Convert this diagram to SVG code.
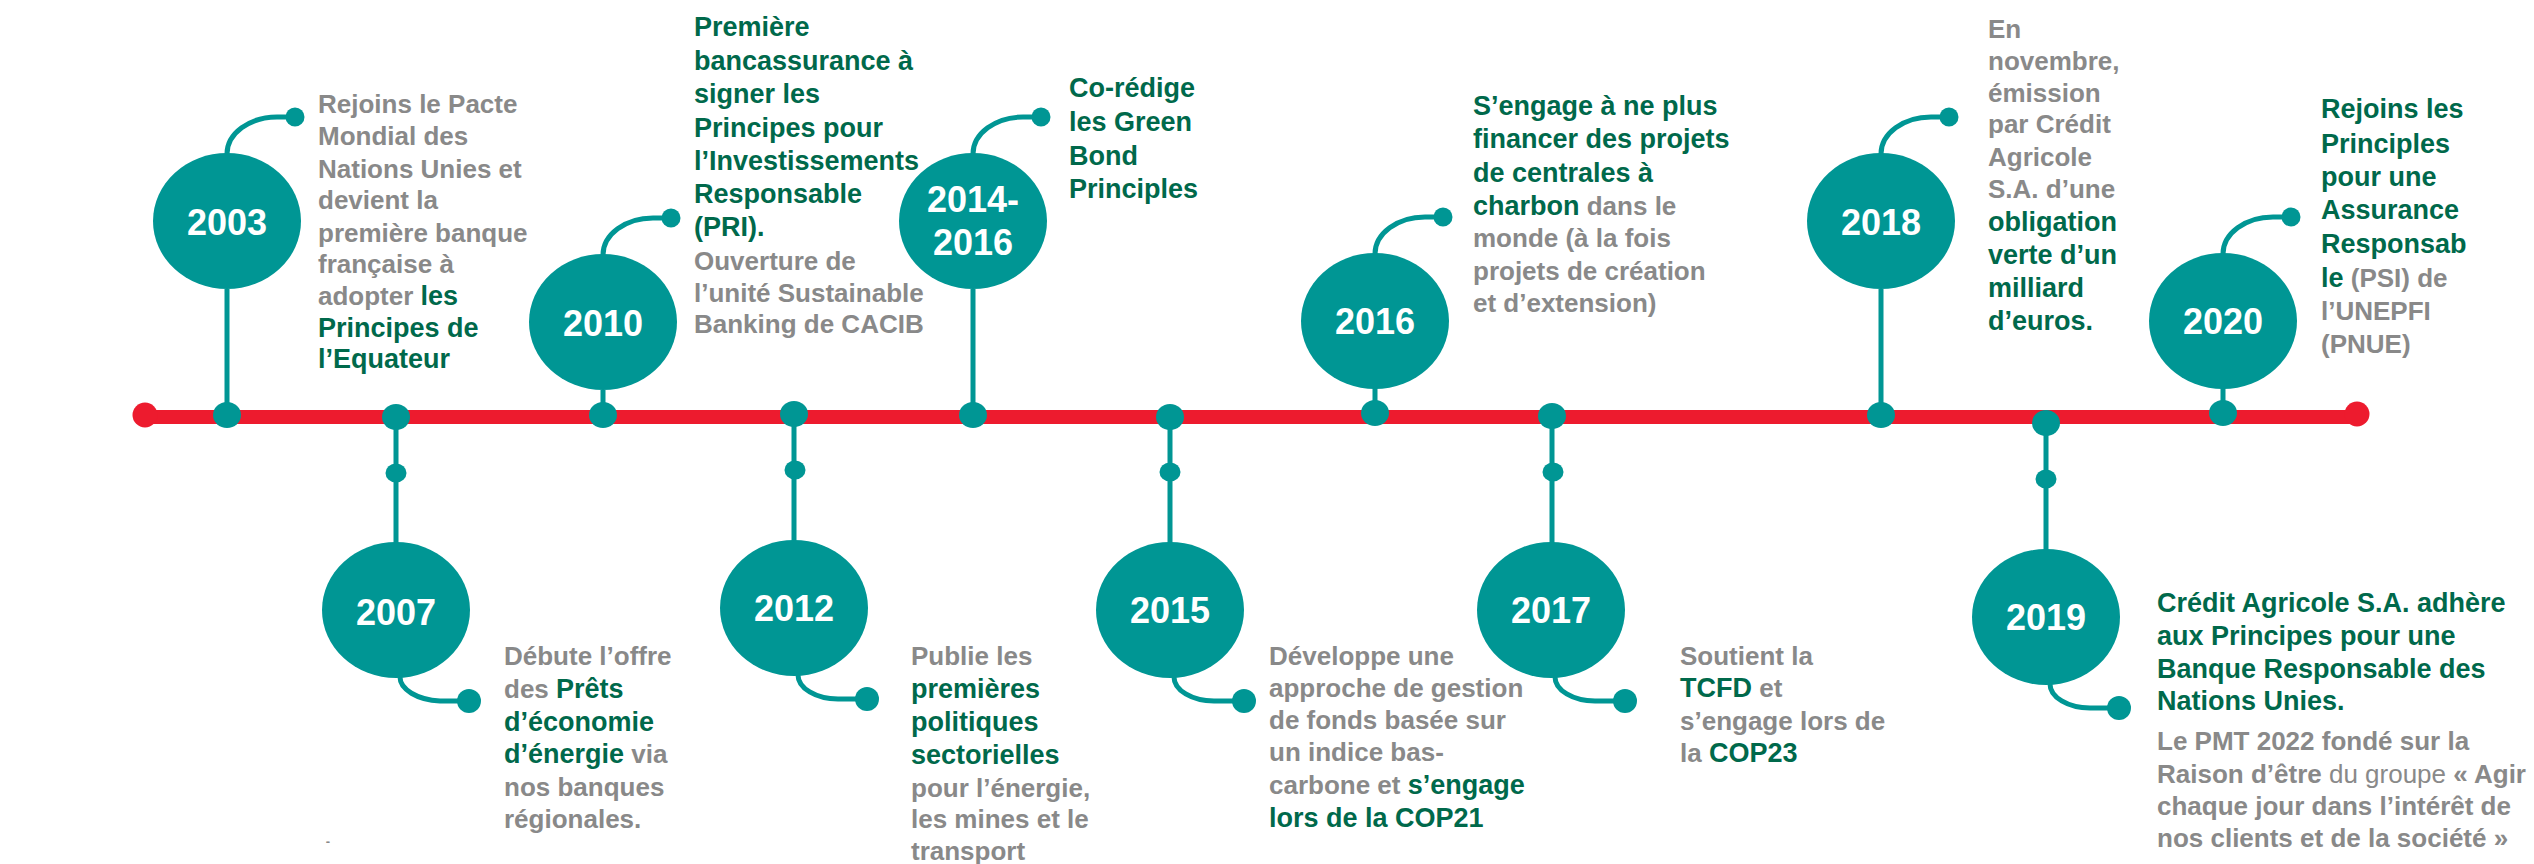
<svg xmlns="http://www.w3.org/2000/svg" width="2534" height="864" viewBox="0 0 2534 864">
<style>
text{font-family:"Liberation Sans",Arial,sans-serif;font-weight:bold}
.g{fill:#898989;font-size:26px}
.v{fill:#00694b;font-size:27px}
.r{font-weight:normal}
.yr{fill:#ffffff;font-size:36px;text-anchor:middle}
.c{fill:#009694}
.ln{stroke:#009694;stroke-width:5;fill:none}
.red{stroke:#ed1b2e;stroke-width:14}
</style>
<rect width="2534" height="864" fill="#ffffff"/>
<g id="connectors">
<line class="red" x1="145" y1="417" x2="2357" y2="417"/>
<circle cx="145" cy="415" r="12.5" fill="#ed1b2e"/>
<circle cx="2357" cy="414" r="12.5" fill="#ed1b2e"/>
</g>
<g id="e2003">
<path class="ln" d="M227,289 V415 M227,154 A50,37 0 0 1 277,117 H295"/>
<ellipse class="c" cx="227" cy="221" rx="74" ry="68"/>
<ellipse class="c" cx="227" cy="415" rx="14" ry="13"/>
<circle class="c" cx="295" cy="117" r="9.5"/>
<text class="yr" x="227" y="235">2003</text>
<text class="g" x="318" y="113">Rejoins le Pacte</text>
<text class="g" x="318" y="145">Mondial des</text>
<text class="g" x="318" y="178">Nations Unies et</text>
<text class="g" x="318" y="209">devient la</text>
<text class="g" x="318" y="242">première banque</text>
<text class="g" x="318" y="273">française à</text>
<text class="g" x="318" y="305">adopter <tspan class="v">les</tspan></text>
<text class="v" x="318" y="337">Principes de</text>
<text class="v" x="318" y="368">l’Equateur</text>
</g>
<g id="e2007">
<path class="ln" d="M396,417 V543 M400,677 A44,24 0 0 0 440,701 H469"/>
<ellipse class="c" cx="396" cy="417" rx="14" ry="13"/>
<ellipse class="c" cx="396" cy="473" rx="10.5" ry="9.5"/>
<ellipse class="c" cx="396" cy="610" rx="74" ry="68"/>
<circle class="c" cx="469" cy="701" r="12"/>
<text class="yr" x="396" y="625">2007</text>
<text class="g" x="504" y="665">Débute l’offre</text>
<text class="g" x="504" y="698">des <tspan class="v">Prêts</tspan></text>
<text class="v" x="504" y="731">d’économie</text>
<text class="g" x="504" y="763"><tspan class="v">d’énergie</tspan> via</text>
<text class="g" x="504" y="796">nos banques</text>
<text class="g" x="504" y="828">régionales.</text>
<text class="g" x="328" y="846" style="font-size:13px;text-anchor:middle">-</text>
</g>
<g id="e2010">
<path class="ln" d="M603,390 V415 M603,255 A50,37 0 0 1 653,218 H671"/>
<ellipse class="c" cx="603" cy="322" rx="74" ry="68"/>
<ellipse class="c" cx="603" cy="415" rx="14" ry="13"/>
<circle class="c" cx="671" cy="218" r="9.5"/>
<text class="yr" x="603" y="336">2010</text>
<text class="v" x="694" y="36">Première</text>
<text class="v" x="694" y="70">bancassurance à</text>
<text class="v" x="694" y="103">signer les</text>
<text class="v" x="694" y="137">Principes pour</text>
<text class="v" x="694" y="170">l’Investissements</text>
<text class="v" x="694" y="203">Responsable</text>
<text class="v" x="694" y="236">(PRI).</text>
<text class="g" x="694" y="270">Ouverture de</text>
<text class="g" x="694" y="302">l’unité Sustainable</text>
<text class="g" x="694" y="333">Banking de CACIB</text>
</g>
<g id="e2012">
<path class="ln" d="M794,414 V541 M798,675 A40,24 0 0 0 838,699 H867"/>
<ellipse class="c" cx="794" cy="414" rx="14" ry="13"/>
<ellipse class="c" cx="795" cy="470" rx="10.5" ry="9.5"/>
<ellipse class="c" cx="794" cy="608" rx="74" ry="68"/>
<circle class="c" cx="867" cy="699" r="12"/>
<text class="yr" x="794" y="621">2012</text>
<text class="g" x="911" y="665">Publie les</text>
<text class="v" x="911" y="698">premières</text>
<text class="v" x="911" y="731">politiques</text>
<text class="v" x="911" y="764">sectorielles</text>
<text class="g" x="911" y="797">pour l’énergie,</text>
<text class="g" x="911" y="828">les mines et le</text>
<text class="g" x="911" y="860">transport</text>
</g>
<g id="e2014">
<path class="ln" d="M973,289 V415 M973,154 A50,37 0 0 1 1023,117 H1041"/>
<ellipse class="c" cx="973" cy="221" rx="74" ry="68"/>
<ellipse class="c" cx="973" cy="415" rx="14" ry="13"/>
<circle class="c" cx="1041" cy="117" r="9.5"/>
<text class="yr" x="973" y="212">2014-</text>
<text class="yr" x="973" y="255">2016</text>
<text class="v" x="1069" y="97">Co-rédige</text>
<text class="v" x="1069" y="131">les Green</text>
<text class="v" x="1069" y="165">Bond</text>
<text class="v" x="1069" y="198">Principles</text>
</g>
<g id="e2015">
<path class="ln" d="M1170,417 V543 M1174,677 A40,24 0 0 0 1214,701 H1244"/>
<ellipse class="c" cx="1170" cy="417" rx="14" ry="13"/>
<ellipse class="c" cx="1170" cy="472" rx="10.5" ry="9.5"/>
<ellipse class="c" cx="1170" cy="610" rx="74" ry="68"/>
<circle class="c" cx="1244" cy="701" r="12"/>
<text class="yr" x="1170" y="623">2015</text>
<text class="g" x="1269" y="665">Développe une</text>
<text class="g" x="1269" y="697">approche de gestion</text>
<text class="g" x="1269" y="729">de fonds basée sur</text>
<text class="g" x="1269" y="761">un indice bas-</text>
<text class="g" x="1269" y="794">carbone et <tspan class="v">s’engage</tspan></text>
<text class="v" x="1269" y="827">lors de la COP21</text>
</g>
<g id="e2016">
<path class="ln" d="M1375,388 V413 M1375,254 A50,37 0 0 1 1425,217 H1443"/>
<ellipse class="c" cx="1375" cy="321" rx="74" ry="68"/>
<ellipse class="c" cx="1375" cy="413" rx="14" ry="13"/>
<circle class="c" cx="1443" cy="217" r="9.5"/>
<text class="yr" x="1375" y="334">2016</text>
<text class="v" x="1473" y="115">S’engage à ne plus</text>
<text class="v" x="1473" y="148">financer des projets</text>
<text class="v" x="1473" y="182">de centrales à</text>
<text class="g" x="1473" y="215"><tspan class="v">charbon</tspan> dans le</text>
<text class="g" x="1473" y="247">monde (à la fois</text>
<text class="g" x="1473" y="280">projets de création</text>
<text class="g" x="1473" y="312">et d’extension)</text>
</g>
<g id="e2017">
<path class="ln" d="M1552,416 V543 M1555,677 A40,24 0 0 0 1595,701 H1625"/>
<ellipse class="c" cx="1552" cy="416" rx="14" ry="13"/>
<ellipse class="c" cx="1553" cy="472" rx="10.5" ry="9.5"/>
<ellipse class="c" cx="1551" cy="610" rx="74" ry="68"/>
<circle class="c" cx="1625" cy="701" r="12"/>
<text class="yr" x="1551" y="623">2017</text>
<text class="g" x="1680" y="665">Soutient la</text>
<text class="g" x="1680" y="697"><tspan class="v">TCFD</tspan> et</text>
<text class="g" x="1680" y="730">s’engage lors de</text>
<text class="g" x="1680" y="762">la <tspan class="v">COP23</tspan></text>
</g>
<g id="e2018">
<path class="ln" d="M1881,289 V415 M1881,154 A50,37 0 0 1 1931,117 H1949"/>
<ellipse class="c" cx="1881" cy="221" rx="74" ry="68"/>
<ellipse class="c" cx="1881" cy="415" rx="14" ry="13"/>
<circle class="c" cx="1949" cy="117" r="9.5"/>
<text class="yr" x="1881" y="235">2018</text>
<text class="g" x="1988" y="38">En</text>
<text class="g" x="1988" y="70">novembre,</text>
<text class="g" x="1988" y="102">émission</text>
<text class="g" x="1988" y="133">par Crédit</text>
<text class="g" x="1988" y="166">Agricole</text>
<text class="g" x="1988" y="198">S.A. d’une</text>
<text class="v" x="1988" y="231">obligation</text>
<text class="v" x="1988" y="264">verte d’un</text>
<text class="v" x="1988" y="297">milliard</text>
<text class="v" x="1988" y="330">d’euros.</text>
</g>
<g id="e2019">
<path class="ln" d="M2046,423 V550 M2050,684 A40,24 0 0 0 2090,708 H2119"/>
<ellipse class="c" cx="2046" cy="423" rx="14" ry="13"/>
<ellipse class="c" cx="2046" cy="479" rx="10.5" ry="9.5"/>
<ellipse class="c" cx="2046" cy="617" rx="74" ry="68"/>
<circle class="c" cx="2119" cy="708" r="12"/>
<text class="yr" x="2046" y="630">2019</text>
<text class="v" x="2157" y="612">Crédit Agricole S.A. adhère</text>
<text class="v" x="2157" y="645">aux Principes pour une</text>
<text class="v" x="2157" y="678">Banque Responsable des</text>
<text class="v" x="2157" y="710">Nations Unies.</text>
<text class="g" x="2157" y="750">Le PMT 2022 fondé sur la</text>
<text class="g" x="2157" y="783">Raison d’être <tspan class="r">du groupe</tspan> « Agir</text>
<text class="g" x="2157" y="815">chaque jour dans l’intérêt de</text>
<text class="g" x="2157" y="847">nos clients et de la société »</text>
</g>
<g id="e2020">
<path class="ln" d="M2223,388 V413 M2223,254 A50,37 0 0 1 2273,217 H2291"/>
<ellipse class="c" cx="2223" cy="321" rx="74" ry="68"/>
<ellipse class="c" cx="2223" cy="413" rx="14" ry="13"/>
<circle class="c" cx="2291" cy="217" r="9.5"/>
<text class="yr" x="2223" y="334">2020</text>
<text class="v" x="2321" y="118">Rejoins les</text>
<text class="v" x="2321" y="153">Principles</text>
<text class="v" x="2321" y="186">pour une</text>
<text class="v" x="2321" y="219">Assurance</text>
<text class="v" x="2321" y="253">Responsab</text>
<text class="g" x="2321" y="287"><tspan class="v">le</tspan> (PSI) de</text>
<text class="g" x="2321" y="320">l’UNEPFI</text>
<text class="g" x="2321" y="353">(PNUE)</text>
</g>
</svg>
